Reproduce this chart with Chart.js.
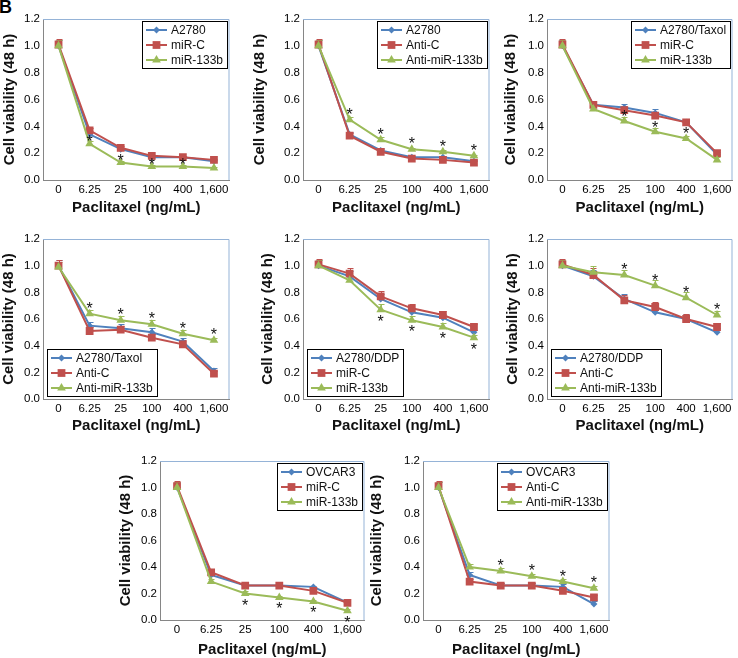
<!DOCTYPE html>
<html>
<head>
<meta charset="utf-8">
<script src="https://cdn.jsdelivr.net/npm/chart.js@4.4.0/dist/chart.umd.min.js"></script>
<style>
  html, body { margin: 0; padding: 0; background: #fff; overflow: hidden; }
  body { width: 738px; height: 658px; position: relative; font-family: "Liberation Sans", Arial, sans-serif; }
  canvas { position: absolute; }
  #tag { position: absolute; left: -1px; top: -3px; font: bold 18px "Liberation Sans", Arial, sans-serif; }
</style>
</head>
<body>
<div id="tag">B</div>

<script>
// Дозы паклитаксела (подписи оси X)
const doses = ['0', '6.25', '25', '100', '400', '1,600'];

// Панель 1: A2780 + miR-133b
const p1Labels = ['A2780', 'miR-C', 'miR-133b'];
const p1Blue  = [1.00, 0.34, 0.23, 0.17, 0.17, 0.14];
const p1Red   = [1.01, 0.37, 0.24, 0.18, 0.17, 0.15];
const p1Green = [1.00, 0.27, 0.13, 0.10, 0.10, 0.09];
const p1Err   = [0.04, 0.02, 0.01, 0.01, 0.01, 0.01];
const p1Stars = [0, 1, 1, 1, 1, 0];

// Панель 2: A2780 + Anti-miR-133b
const p2Labels = ['A2780', 'Anti-C', 'Anti-miR-133b'];
const p2Blue  = [1.00, 0.34, 0.22, 0.17, 0.17, 0.14];
const p2Red   = [1.01, 0.33, 0.21, 0.16, 0.15, 0.13];
const p2Green = [1.00, 0.45, 0.30, 0.23, 0.21, 0.18];
const p2Err   = [0.04, 0.02, 0.02, 0.01, 0.01, 0.01];
const p2Stars = [0, 1, 1, 1, 1, 1];

// Панель 3: A2780/Taxol + miR-133b
const p3Labels = ['A2780/Taxol', 'miR-C', 'miR-133b'];
const p3Blue  = [1.00, 0.56, 0.54, 0.50, 0.43, 0.19];
const p3Red   = [1.01, 0.56, 0.52, 0.48, 0.43, 0.20];
const p3Green = [1.00, 0.53, 0.44, 0.36, 0.31, 0.15];
const p3Err   = [0.04, 0.02, 0.03, 0.03, 0.02, 0.02];
const p3Stars = [0, 0, 1, 1, 1, 0];

// Панель 4: A2780/Taxol + Anti-miR-133b
const p4Labels = ['A2780/Taxol', 'Anti-C', 'Anti-miR-133b'];
const p4Blue  = [1.00, 0.55, 0.53, 0.50, 0.43, 0.21];
const p4Red   = [1.00, 0.51, 0.52, 0.46, 0.41, 0.19];
const p4Green = [0.99, 0.64, 0.59, 0.56, 0.49, 0.44];
const p4Err   = [0.04, 0.03, 0.03, 0.03, 0.03, 0.02];
const p4Stars = [0, 1, 1, 1, 1, 1];

// Панель 5: A2780/DDP + miR-133b
const p5Labels = ['A2780/DDP', 'miR-C', 'miR-133b'];
const p5Blue  = [1.00, 0.92, 0.75, 0.65, 0.61, 0.50];
const p5Red   = [1.01, 0.94, 0.77, 0.68, 0.63, 0.54];
const p5Green = [1.00, 0.89, 0.67, 0.59, 0.54, 0.46];
const p5Err   = [0.04, 0.04, 0.04, 0.03, 0.03, 0.02];
const p5Stars = [0, 0, 1, 1, 1, 1];

// Панель 6: A2780/DDP + Anti-miR-133b
const p6Labels = ['A2780/DDP', 'Anti-C', 'Anti-miR-133b'];
const p6Blue  = [1.00, 0.92, 0.75, 0.65, 0.60, 0.50];
const p6Red   = [1.01, 0.93, 0.74, 0.69, 0.60, 0.54];
const p6Green = [1.00, 0.95, 0.93, 0.85, 0.76, 0.63];
const p6Err   = [0.04, 0.05, 0.04, 0.04, 0.04, 0.03];
const p6Stars = [0, 0, 1, 1, 1, 1];

// Панель 7: OVCAR3 + miR-133b
const p7Labels = ['OVCAR3', 'miR-C', 'miR-133b'];
const p7Blue  = [1.00, 0.34, 0.26, 0.26, 0.25, 0.13];
const p7Red   = [1.01, 0.36, 0.26, 0.26, 0.22, 0.13];
const p7Green = [1.00, 0.29, 0.20, 0.17, 0.14, 0.07];
const p7Err   = [0.04, 0.02, 0.02, 0.01, 0.01, 0.01];
const p7Stars = [0, 0, 1, 1, 1, 1];

// Панель 8: OVCAR3 + Anti-miR-133b
const p8Labels = ['OVCAR3', 'Anti-C', 'Anti-miR-133b'];
const p8Blue  = [1.00, 0.34, 0.26, 0.26, 0.25, 0.12];
const p8Red   = [1.01, 0.29, 0.26, 0.26, 0.22, 0.17];
const p8Green = [1.00, 0.40, 0.37, 0.33, 0.29, 0.24];
const p8Err   = [0.04, 0.02, 0.02, 0.02, 0.02, 0.02];
const p8Stars = [0, 0, 1, 1, 1, 1];

const FONT = '"Liberation Sans", Arial, sans-serif';
const COLORS = ['#4F81BD', '#C0504D', '#9BBB59'];
const STYLES = [
    { pointStyle: 'rectRot', radius: 3.5 },
    { pointStyle: 'rect', radius: 5.5 },
    { pointStyle: 'triangle', radius: 5 }
];

// Размещение панелей (холсты) и их данные
const panels = [
    { x: 1,   y: 9,   w: 234, h: 208, yW: 42, xH: 37, padR: 3, legend: 'tr', star: 'above', gap: 6, labels: p1Labels, series: [p1Blue, p1Red, p1Green], err: p1Err, stars: p1Stars },
    { x: 251, y: 9,   w: 244, h: 208, yW: 52, xH: 37, padR: 3, legend: 'tr', star: 'above', gap: 9, labels: p2Labels, series: [p2Blue, p2Red, p2Green], err: p2Err, stars: p2Stars },
    { x: 502, y: 9,   w: 236, h: 208, yW: 45, xH: 37, padR: 1, legend: 'tr', star: 'above', gap: 8, labels: p3Labels, series: [p3Blue, p3Red, p3Green], err: p3Err, stars: p3Stars },
    { x: 0,   y: 229, w: 235, h: 206, yW: 43, xH: 36, padR: 3, legend: 'bl', star: 'above', gap: 9, labels: p4Labels, series: [p4Blue, p4Red, p4Green], err: p4Err, stars: p4Stars },
    { x: 259, y: 229, w: 236, h: 206, yW: 44, xH: 36, padR: 3, legend: 'bl', star: 'below', gap: 8, labels: p5Labels, series: [p5Blue, p5Red, p5Green], err: p5Err, stars: p5Stars },
    { x: 504, y: 229, w: 234, h: 206, yW: 43, xH: 36, padR: 1, legend: 'bl', star: 'above', gap: 9, labels: p6Labels, series: [p6Blue, p6Red, p6Green], err: p6Err, stars: p6Stars },
    { x: 117, y: 451, w: 253, h: 208, yW: 43, xH: 39, padR: 3, legend: 'tr', star: 'below', gap: 8, labels: p7Labels, series: [p7Blue, p7Red, p7Green], err: p7Err, stars: p7Stars },
    { x: 368, y: 451, w: 247, h: 208, yW: 55, xH: 39, padR: 3, legend: 'tr', star: 'above', gap: 9, labels: p8Labels, series: [p8Blue, p8Red, p8Green], err: p8Err, stars: p8Stars }
];

function marker(ctx, style, x, y, r, color) {
    ctx.fillStyle = color;
    ctx.beginPath();
    if (style === 'rectRot') {
        ctx.moveTo(x, y - r); ctx.lineTo(x + r, y); ctx.lineTo(x, y + r); ctx.lineTo(x - r, y);
    } else if (style === 'rect') {
        const s = r * Math.SQRT1_2;
        ctx.rect(x - s, y - s, 2 * s, 2 * s);
    } else {
        ctx.moveTo(x, y - r);
        ctx.lineTo(x + r * 0.866, y + r * 0.5);
        ctx.lineTo(x - r * 0.866, y + r * 0.5);
    }
    ctx.closePath();
    ctx.fill();
}

// Рамка, планки погрешностей, звёздочки и легенда
const extras = {
    id: 'extras',
    beforeDatasetsDraw(chart, args, opts) {
        const ctx = chart.ctx, a = chart.chartArea, ys = chart.scales.y;
        ctx.save();
        ctx.strokeStyle = '#95b3d7';
        ctx.lineWidth = 1;
        ctx.beginPath();
        ctx.moveTo(a.left, a.top + 0.5);
        ctx.lineTo(a.right - 0.5, a.top + 0.5);
        ctx.lineTo(a.right - 0.5, a.bottom);
        ctx.stroke();

        chart.data.datasets.forEach((ds, di) => {
            const meta = chart.getDatasetMeta(di);
            ctx.strokeStyle = COLORS[di];
            meta.data.forEach((pt, i) => {
                const top = Math.round(ys.getPixelForValue(ds.data[i] + opts.err[i])) + 0.5;
                const px = Math.round(pt.x) + 0.5;
                ctx.beginPath();
                ctx.moveTo(px, pt.y);
                ctx.lineTo(px, top);
                ctx.moveTo(px - 3, top);
                ctx.lineTo(px + 3, top);
                ctx.stroke();
            });
        });
        ctx.restore();
    },
    afterDatasetsDraw(chart, args, opts) {
        const ctx = chart.ctx, a = chart.chartArea, ys = chart.scales.y;
        ctx.save();
        // звёздочки над/под зелёной серией
        const green = chart.getDatasetMeta(2);
        ctx.fillStyle = '#111';
        ctx.font = '16px ' + FONT;
        ctx.textAlign = 'center';
        ctx.textBaseline = 'alphabetic';
        opts.stars.forEach((s, i) => {
            if (!s) return;
            const pt = green.data[i];
            const cy = opts.star === 'above' ? pt.y - opts.gap : pt.y + opts.gap;
            ctx.fillText('*', pt.x, cy + 9);
        });

        // легенда в рамке
        ctx.font = '12px ' + FONT;
        const labels = chart.data.datasets.map(d => d.label);
        const tw = Math.max(...labels.map(l => ctx.measureText(l).width));
        const bw = Math.round(29 + tw + 4), bh = 47;
        let bx, by;
        if (opts.legend === 'tr') {
            bx = Math.round(a.right - 3 - bw);
            by = Math.round(a.top + 2);
        } else {
            bx = Math.round(a.left + 4);
            by = Math.round(a.bottom - 3 - bh);
        }
        ctx.fillStyle = '#fff';
        ctx.fillRect(bx, by, bw, bh);
        ctx.strokeStyle = '#000';
        ctx.lineWidth = 1;
        ctx.strokeRect(bx + 0.5, by + 0.5, bw, bh);
        labels.forEach((l, i) => {
            const cy = by + 9 + 15 * i;
            ctx.strokeStyle = COLORS[i];
            ctx.lineWidth = 2;
            ctx.beginPath();
            ctx.moveTo(bx + 4, cy);
            ctx.lineTo(bx + 25, cy);
            ctx.stroke();
            marker(ctx, STYLES[i].pointStyle, bx + 14.5, cy, STYLES[i].radius, COLORS[i]);
            ctx.fillStyle = '#111';
            ctx.textAlign = 'left';
            ctx.textBaseline = 'middle';
            ctx.fillText(l, bx + 29, cy + 0.5);
        });
        ctx.restore();
    }
};

panels.forEach(p => {
    const cv = document.createElement('canvas');
    cv.width = p.w;
    cv.height = p.h;
    cv.style.left = p.x + 'px';
    cv.style.top = p.y + 'px';
    document.body.appendChild(cv);

    const datasets = p.series.map((vals, i) => ({
        label: p.labels[i],
        data: vals,
        borderColor: COLORS[i],
        backgroundColor: COLORS[i],
        borderWidth: 2,
        tension: 0,
        pointStyle: STYLES[i].pointStyle,
        pointRadius: STYLES[i].radius,
        pointBorderWidth: 0,
        order: 3 - i
    }));

    new Chart(cv, {
        type: 'line',
        data: { labels: doses, datasets: datasets },
        plugins: [extras],
        options: {
            responsive: false,
            animation: false,
            devicePixelRatio: 1,
            layout: { padding: { top: 10, right: p.padR, left: 0, bottom: 0 } },
            plugins: {
                legend: { display: false },
                tooltip: { enabled: false },
                extras: { err: p.err, stars: p.stars, star: p.star, gap: p.gap, legend: p.legend }
            },
            scales: {
                x: {
                    type: 'category',
                    offset: true,
                    grid: { display: false, drawTicks: false },
                    border: { color: '#868686', width: 1 },
                    ticks: { color: '#000', font: { family: FONT, size: 11.5 }, padding: 3, maxRotation: 0, autoSkip: false },
                    title: { display: true, text: 'Paclitaxel (ng/mL)', color: '#111', font: { family: FONT, size: 15, weight: 'bold' }, padding: 0 },
                    afterFit: s => { s.height = p.xH; }
                },
                y: {
                    min: 0,
                    max: 1.2,
                    grid: { display: false, drawTicks: false },
                    border: { color: '#868686', width: 1 },
                    ticks: { stepSize: 0.2, color: '#000', font: { family: FONT, size: 11.5 }, padding: 3, callback: v => v.toFixed(1) },
                    title: { display: true, text: 'Cell viability (48 h)', color: '#111', font: { family: FONT, size: 15, weight: 'bold' }, padding: 0 },
                    afterFit: s => { s.width = p.yW; }
                }
            }
        }
    });
});
</script>
</body>
</html>
